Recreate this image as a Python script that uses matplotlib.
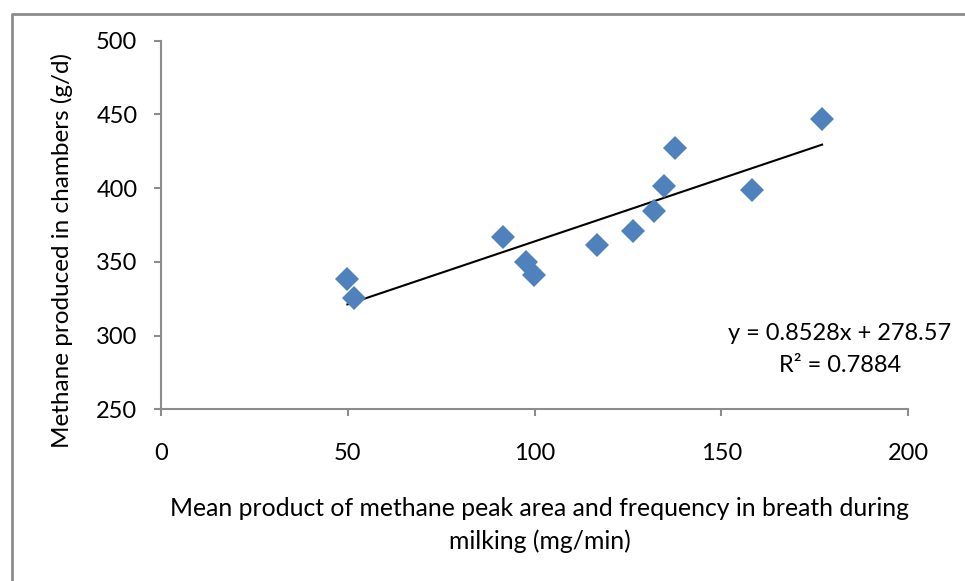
import matplotlib.pyplot as plt
from matplotlib.lines import Line2D

# breath product (mg/min) vs chamber methane (g/d)
breath = [49.9, 51.8, 91.6, 97.7, 99.9, 116.7, 126.3, 131.9, 134.8, 137.5, 158.3, 177.0]
chamber = [338.3, 325.4, 366.8, 349.9, 341.0, 361.4, 370.9, 384.5, 401.5, 427.3, 398.8, 447.0]
slope = 0.8528
intercept = 278.57
r2 = 0.7884
xticks = [0, 50, 100, 150, 200]
yticks = [250, 300, 350, 400, 450, 500]

plt.rcParams['font.family'] = ['Lato', 'DejaVu Sans']

W, H = 965, 581
fig = plt.figure(figsize=(W / 100, H / 100), dpi=100)
ax = fig.add_axes([161 / W, 1 - 409.3 / H, (908 - 161) / W, (409.3 - 40.7) / H])

ax.plot(breath, chamber, linestyle='none', marker='D', markersize=12.5,
        color='#4F81BD', markeredgewidth=0, zorder=3)

# linear trendline over the data range
x0, x1 = min(breath), max(breath)
ax.plot([x0, x1], [slope * x0 + intercept, slope * x1 + intercept],
        color='black', linewidth=1.5, zorder=2)

ax.set_xlim(0, 200)
ax.set_ylim(250, 500)
ax.set_xticks(xticks)
ax.set_yticks(yticks)
for s in ['top', 'right']:
    ax.spines[s].set_visible(False)
for s in ['left', 'bottom']:
    ax.spines[s].set_color('#8c8c8c')
    ax.spines[s].set_linewidth(1.5)
ax.tick_params(axis='both', colors='#8c8c8c', length=5, width=1.5,
               labelcolor='black', labelsize=17)
ax.tick_params(axis='x', pad=19)
ax.tick_params(axis='y', pad=12)

fig.text(840 / W, 1 - 334 / H, f'y = {slope}x + {intercept}', fontsize=17,
         ha='center', va='center')
fig.text(840 / W, 1 - 366 / H, f'R² = {r2}', fontsize=17,
         ha='center', va='center')

fig.text(62 / W, 1 - 251 / H, 'Methane produced in chambers (g/d)',
         rotation=90, ha='center', va='center', fontsize=17.5)
fig.text(540 / W, 1 - 508 / H,
         'Mean product of methane peak area and frequency in breath during',
         ha='center', va='center', fontsize=17.8)
fig.text(540 / W, 1 - 541 / H, 'milking (mg/min)',
         ha='center', va='center', fontsize=17.8)

# chart area frame
fig.add_artist(Line2D([12 / W, 12 / W, 1], [0, 1 - 14 / H, 1 - 14 / H],
                      transform=fig.transFigure, color='#8c8c8c', linewidth=2))

fig.savefig('out.png', dpi=100)
